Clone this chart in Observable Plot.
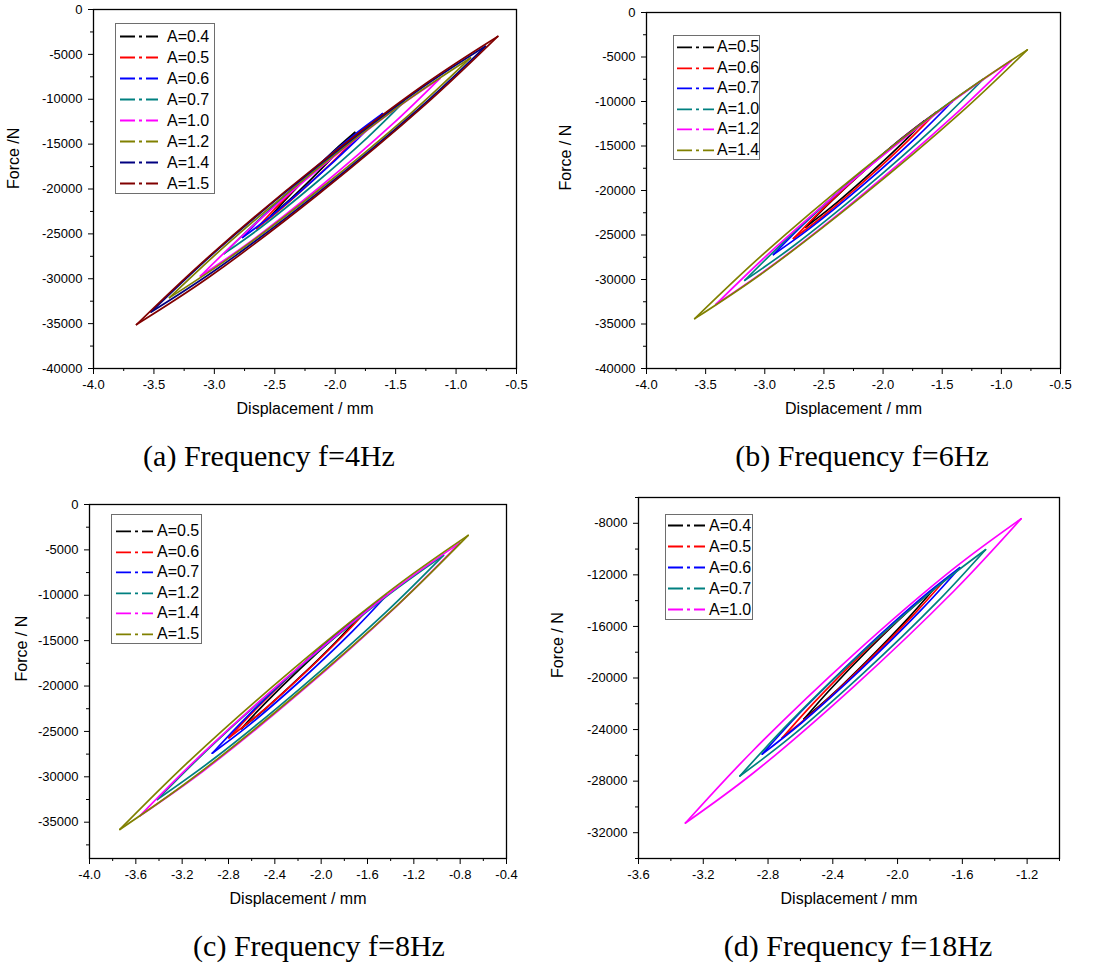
<!DOCTYPE html>
<html><head><meta charset="utf-8">
<script src="https://cdn.jsdelivr.net/npm/d3@7"></script>
<script src="https://cdn.jsdelivr.net/npm/@observablehq/plot@0.6"></script>
<style>
body{margin:0;background:#fff;}
#wrap{position:relative;width:1106px;height:971px;overflow:hidden;background:#fff;font-family:"Liberation Sans",Arial,sans-serif;}
.panel{position:absolute;}
.panel svg{overflow:visible;}
.legend{position:absolute;background:#fff;border:1px solid #6e6e6e;box-sizing:border-box;}
.legend .row{position:absolute;left:0;}
.legend .row span{position:absolute;font-size:16px;color:#000;white-space:nowrap;}
.cap{position:absolute;font-family:"Liberation Serif","Times New Roman",serif;font-size:30px;line-height:30px;transform:translate(-50%,-50%);white-space:nowrap;color:#000;}
</style>
</head><body><div id="wrap"></div>
<script>
// ---------- (a) f = 4 Hz ----------
const f4Labels = ["A=0.4","A=0.5","A=0.6","A=0.7","A=1.0","A=1.2","A=1.4","A=1.5"];
const f4Colors = ["#000000","#ff0000","#0000ff","#008080","#ff00ff","#808000","#000080","#800000"];
const f4X = [
  [-2.530,-2.392,-2.184,-1.976,-1.838],
  [-2.651,-2.465,-2.187,-1.908,-1.722],
  [-2.767,-2.535,-2.188,-1.841,-1.609],
  [-2.919,-2.622,-2.176,-1.729,-1.432],
  [-3.115,-2.719,-2.125,-1.531,-1.135],
  [-3.371,-2.873,-2.126,-1.379,-0.881],
  [-3.523,-2.970,-2.140,-1.310,-0.757],
  [-3.644,-3.046,-2.150,-1.253,-0.655]
];
const f4Upper = [
  [-23000,-20900,-18000,-15320,-13700],
  [-24400,-21740,-18120,-14780,-12800],
  [-25400,-22220,-17900,-13940,-11600],
  [-27200,-23300,-18000,-13160,-10300],
  [-29700,-24570,-17650,-11370,-7700],
  [-32100,-25890,-17500,-9870,-5400],
  [-33700,-26730,-17400,-8970,-4100],
  [-35100,-27530,-17400,-8270,-3000]
];
const f4Lower = [
  [-23000,-21390,-18700,-15810,-13700],
  [-24400,-22420,-19080,-15460,-12800],
  [-25400,-23060,-19100,-14780,-11600],
  [-27200,-24350,-19500,-14210,-10300],
  [-29700,-26040,-19750,-12840,-7700],
  [-32100,-27640,-20000,-11620,-5400],
  [-33700,-28830,-20400,-11070,-4100],
  [-35100,-29840,-20700,-10580,-3000]
];

// ---------- (b) f = 6 Hz ----------
const f6Labels = ["A=0.5","A=0.6","A=0.7","A=1.0","A=1.2","A=1.4"];
const f6Colors = ["#000000","#ff0000","#0000ff","#008080","#ff00ff","#808000"];
const f6X = [
  [-2.654,-2.454,-2.154,-1.854,-1.654],
  [-2.758,-2.516,-2.154,-1.792,-1.550],
  [-2.927,-2.625,-2.171,-1.717,-1.415],
  [-3.169,-2.766,-2.161,-1.556,-1.153],
  [-3.414,-2.914,-2.165,-1.416,-0.916],
  [-3.592,-3.030,-2.187,-1.343,-0.781]
];
const f6Upper = [
  [-24100,-21410,-17700,-14270,-12200],
  [-25400,-22140,-17700,-13620,-11200],
  [-27200,-23200,-17800,-12880,-10000],
  [-30100,-24850,-17750,-11290,-7500],
  [-32800,-26450,-17850,-10010,-5400],
  [-34400,-27350,-17850,-9230,-4200]
];
const f6Lower = [
  [-24100,-22040,-18600,-14900,-12200],
  [-25400,-22980,-18900,-14460,-11200],
  [-27200,-24320,-19400,-14000,-10000],
  [-30100,-26320,-19850,-12760,-7500],
  [-32800,-28200,-20350,-11760,-5400],
  [-34400,-29380,-20750,-11260,-4200]
];

// ---------- (c) f = 8 Hz ----------
const f8Labels = ["A=0.5","A=0.6","A=0.7","A=1.2","A=1.4","A=1.5"];
const f8Colors = ["#000000","#ff0000","#0000ff","#008080","#ff00ff","#808000"];
const f8X = [
  [-2.690,-2.487,-2.182,-1.876,-1.673],
  [-2.796,-2.554,-2.191,-1.828,-1.586],
  [-2.940,-2.639,-2.187,-1.735,-1.434],
  [-3.415,-2.921,-2.180,-1.438,-0.944],
  [-3.565,-3.012,-2.183,-1.353,-0.800],
  [-3.738,-3.137,-2.235,-1.332,-0.731]
];
const f8Upper = [
  [-24700,-21930,-18100,-14550,-12400],
  [-25700,-22420,-17950,-13840,-11400],
  [-27400,-23360,-17900,-12920,-10000],
  [-32500,-26280,-17850,-10140,-5600],
  [-34300,-27270,-17800,-9210,-4200],
  [-35800,-28240,-18050,-8800,-3400]
];
const f8Lower = [
  [-24700,-22560,-19000,-15180,-12400],
  [-25700,-23260,-19150,-14680,-11400],
  [-27400,-24480,-19500,-14040,-10000],
  [-32500,-27960,-20250,-11820,-5600],
  [-34300,-29300,-20700,-11240,-4200],
  [-35800,-30410,-21150,-10970,-3400]
];

// ---------- (d) f = 18 Hz ----------
const f18Labels = ["A=0.4","A=0.5","A=0.6","A=0.7","A=1.0"];
const f18Colors = ["#000000","#ff0000","#0000ff","#008080","#ff00ff"];
const f18X = [
  [-2.579,-2.418,-2.178,-1.937,-1.776],
  [-2.713,-2.512,-2.211,-1.909,-1.708],
  [-2.836,-2.592,-2.226,-1.860,-1.616],
  [-2.974,-2.671,-2.216,-1.760,-1.457],
  [-3.310,-2.895,-2.274,-1.652,-1.237]
];
const f18Upper = [
  [-23200,-20910,-17770,-14850,-13100],
  [-24650,-21850,-18030,-14500,-12400],
  [-25900,-22560,-18030,-13890,-11450],
  [-27600,-23500,-17980,-12970,-10050],
  [-31250,-25660,-18200,-11500,-7650]
];
const f18Lower = [
  [-23200,-21450,-18530,-15390,-13100],
  [-24650,-22550,-19030,-15200,-12400],
  [-25900,-23470,-19330,-14800,-11450],
  [-27600,-24690,-19680,-14160,-10050],
  [-31250,-27410,-20700,-13250,-7650]
];

// ---------- tick values ----------
const xTicksAB = [-4.0,-3.5,-3.0,-2.5,-2.0,-1.5,-1.0,-0.5];
const xMinorAB = [-3.75,-3.25,-2.75,-2.25,-1.75,-1.25,-0.75];
const yTicksAB = [0,-5000,-10000,-15000,-20000,-25000,-30000,-35000,-40000];
const yMinorAB = [-2500,-7500,-12500,-17500,-22500,-27500,-32500,-37500];
const xTicksC = [-4.0,-3.6,-3.2,-2.8,-2.4,-2.0,-1.6,-1.2,-0.8,-0.4];
const xMinorC = [-3.8,-3.4,-3.0,-2.6,-2.2,-1.8,-1.4,-1.0,-0.6];
const yTicksC = [0,-5000,-10000,-15000,-20000,-25000,-30000,-35000];
const yMinorC = [-2500,-7500,-12500,-17500,-22500,-27500,-32500,-37500];
const xTicksD = [-3.6,-3.2,-2.8,-2.4,-2.0,-1.6,-1.2];
const xMinorD = [-3.4,-3.0,-2.6,-2.2,-1.8,-1.4,-1.0];
const yTicksD = [-8000,-12000,-16000,-20000,-24000,-28000,-32000];
const yMinorD = [-6000,-10000,-14000,-18000,-22000,-26000,-30000,-34000];

const captions = ["(a) Frequency f=4Hz","(b) Frequency f=6Hz","(c) Frequency f=8Hz","(d) Frequency f=18Hz"];

const wrap = document.getElementById("wrap");

function buildRows(labels, X, U, L) {
  const rows = [];
  labels.forEach((a, i) => {
    [["up", U[i]], ["lo", L[i]]].forEach(([branch, F]) => {
      X[i].forEach((x, j) => rows.push({A: a, key: a + "-" + branch, x: x, F: F[j]}));
    });
  });
  return rows;
}

function makePanel(cfg) {
  const rows = buildRows(cfg.labels, cfg.X, cfg.U, cfg.L);
  const svg = Plot.plot({
    width: cfg.width, height: cfg.height,
    marginLeft: cfg.ml, marginRight: cfg.mr, marginTop: cfg.mt, marginBottom: cfg.mb,
    style: {fontFamily: '"Liberation Sans", Arial, sans-serif', fontSize: "13px", color: "#000", background: "transparent", overflow: "visible"},
    x: {domain: cfg.xDomain},
    y: {domain: cfg.yDomain},
    color: {domain: cfg.labels, range: cfg.colors},
    marks: [
      Plot.axisX({ticks: cfg.xTicks, tickSize: 6, tickPadding: 5, tickFormat: d => d.toFixed(1), label: null, fontSize: 13}),
      Plot.axisX({ticks: cfg.xMinor, tickSize: 3, tickFormat: () => "", label: null}),
      Plot.axisY({ticks: cfg.yTicks, tickSize: 5, tickPadding: 6, tickFormat: d => String(d), label: null, fontSize: 13}),
      Plot.axisY({ticks: cfg.yMinor, tickSize: 3, tickFormat: () => "", label: null}),
      Plot.line(rows, {x: "x", y: "F", z: "key", stroke: "A", strokeWidth: 1.7, curve: "catmull-rom"}),
      Plot.frame({stroke: "#000", strokeWidth: 1.3}),
      Plot.text([cfg.xTitle], {text: d => d, frameAnchor: "bottom", dy: 45, fontSize: 16}),
      Plot.text([cfg.yTitle], {text: d => d, frameAnchor: "left", dx: cfg.yDx, rotate: -90, fontSize: 16})
    ]
  });
  const div = document.createElement("div");
  div.className = "panel";
  div.style.left = cfg.left + "px";
  div.style.top = cfg.top + "px";
  div.appendChild(svg);
  wrap.appendChild(div);
}

function makeLegend(cfg) {
  const box = document.createElement("div");
  box.className = "legend";
  box.style.left = cfg.left + "px";
  box.style.top = cfg.top + "px";
  box.style.width = cfg.width + "px";
  box.style.height = cfg.height + "px";
  cfg.labels.forEach((lab, i) => {
    const row = document.createElement("div");
    row.className = "row";
    row.style.top = (cfg.padTop + i * cfg.rowH) + "px";
    row.style.height = cfg.rowH + "px";
    row.style.width = "100%";
    const ns = "http://www.w3.org/2000/svg";
    const s = document.createElementNS(ns, "svg");
    s.setAttribute("width", cfg.s1 + 2);
    s.setAttribute("height", cfg.rowH);
    s.style.position = "absolute"; s.style.left = "0"; s.style.top = "0";
    const ln = document.createElementNS(ns, "line");
    ln.setAttribute("x1", cfg.s0); ln.setAttribute("x2", cfg.s1);
    ln.setAttribute("y1", cfg.rowH / 2); ln.setAttribute("y2", cfg.rowH / 2);
    ln.setAttribute("stroke", cfg.colors[i]);
    ln.setAttribute("stroke-width", 1.8);
    ln.setAttribute("stroke-dasharray", "15,4,3,4,15");
    s.appendChild(ln);
    row.appendChild(s);
    const sp = document.createElement("span");
    sp.textContent = lab;
    sp.style.left = cfg.tx + "px";
    sp.style.top = "0px";
    sp.style.lineHeight = cfg.rowH + "px";
    row.appendChild(sp);
    box.appendChild(row);
  });
  wrap.appendChild(box);
}

function makeCaption(text, cx, cy) {
  const d = document.createElement("div");
  d.className = "cap";
  d.textContent = text;
  d.style.left = cx + "px";
  d.style.top = cy + "px";
  wrap.appendChild(d);
}

// Panel (a)
makePanel({left: 0, top: 0, width: 550, height: 430, ml: 93, mr: 34, mt: 9, mb: 62,
  labels: f4Labels, colors: f4Colors, X: f4X, U: f4Upper, L: f4Lower,
  xDomain: [-4, -0.5], yDomain: [-40000, 0],
  xTicks: xTicksAB, xMinor: xMinorAB, yTicks: yTicksAB, yMinor: yMinorAB,
  xTitle: "Displacement / mm", yTitle: "Force /N", yDx: -80});
// Panel (b)
makePanel({left: 550, top: 0, width: 556, height: 430, ml: 96, mr: 46, mt: 12, mb: 62,
  labels: f6Labels, colors: f6Colors, X: f6X, U: f6Upper, L: f6Lower,
  xDomain: [-4, -0.5], yDomain: [-40000, 0],
  xTicks: xTicksAB, xMinor: xMinorAB, yTicks: yTicksAB, yMinor: yMinorAB,
  xTitle: "Displacement / mm", yTitle: "Force / N", yDx: -81});
// Panel (c)
makePanel({left: 0, top: 490, width: 550, height: 430, ml: 89, mr: 44, mt: 14, mb: 62,
  labels: f8Labels, colors: f8Colors, X: f8X, U: f8Upper, L: f8Lower,
  xDomain: [-4, -0.4], yDomain: [-39000, 0],
  xTicks: xTicksC, xMinor: xMinorC, yTicks: yTicksC, yMinor: yMinorC,
  xTitle: "Displacement / mm", yTitle: "Force / N", yDx: -68});
// Panel (d)
makePanel({left: 550, top: 490, width: 556, height: 430, ml: 88, mr: 47, mt: 7, mb: 62,
  labels: f18Labels, colors: f18Colors, X: f18X, U: f18Upper, L: f18Lower,
  xDomain: [-3.6, -1.0], yDomain: [-34000, -6000],
  xTicks: xTicksD, xMinor: xMinorD, yTicks: yTicksD, yMinor: yMinorD,
  xTitle: "Displacement / mm", yTitle: "Force / N", yDx: -81});

makeLegend({left: 115, top: 23, width: 100, height: 171, padTop: 2, rowH: 21, s0: 4, s1: 42, tx: 51, labels: f4Labels, colors: f4Colors});
makeLegend({left: 673, top: 35, width: 87, height: 125, padTop: 1, rowH: 20.6, s0: 3, s1: 40, tx: 43, labels: f6Labels, colors: f6Colors});
makeLegend({left: 111, top: 514, width: 91, height: 130, padTop: 6, rowH: 20.6, s0: 4, s1: 41, tx: 45, labels: f8Labels, colors: f8Colors});
makeLegend({left: 665, top: 514, width: 88, height: 106, padTop: 0, rowH: 21, s0: 2, s1: 39, tx: 43, labels: f18Labels, colors: f18Colors});

makeCaption(captions[0], 269, 456);
makeCaption(captions[1], 862, 456);
makeCaption(captions[2], 319, 946);
makeCaption(captions[3], 858, 946);
</script>
</body></html>
